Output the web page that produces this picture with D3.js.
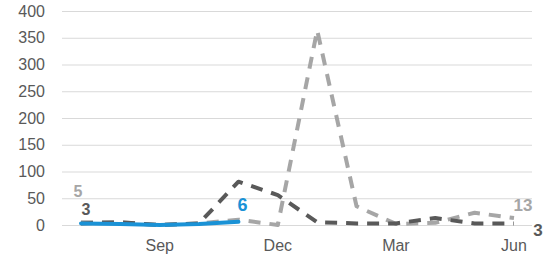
<!DOCTYPE html>
<html>
<head>
<script src="https://cdn.jsdelivr.net/npm/d3@7"></script>
<style>
  body { margin: 0; background: #fff; }
  text { font-family: "Liberation Sans", Arial, sans-serif; }
</style>
</head>
<body>
<script>
// ---- data ----
var months = ["Jul", "Aug", "Sep", "Oct", "Nov", "Dec", "Jan", "Feb", "Mar", "Apr", "May", "Jun"];
var tickMonths = ["Sep", "Dec", "Mar", "Jun"];
var yTicks = [0, 50, 100, 150, 200, 250, 300, 350, 400];
var lightValues = [5, 5, 0, 3, 10, 0, 364, 35, 2, 4, 23, 13];
var darkValues = [3, 5, 0, 3, 81, 56, 5, 3, 3, 13, 3, 3];
var blueValues = [3, 2, 0, 2, 6];

var svg = d3.select("body").append("svg")
  .attr("width", 549).attr("height", 263);

var x = d3.scalePoint().domain(months).range([81, 514]);
var y = d3.scaleLinear().domain([0, 400]).range([225, 11]);

// grid
svg.append("g").selectAll("line").data(yTicks).enter().append("line")
  .attr("x1", 62).attr("x2", 532)
  .attr("y1", function(d) { return y(d) + 0.5; })
  .attr("y2", function(d) { return y(d) + 0.5; })
  .attr("stroke", "#d9d9d9").attr("stroke-width", 1);

// y labels
svg.append("g").selectAll("text").data(yTicks).enter().append("text")
  .attr("x", 45).attr("y", function(d) { return y(d); })
  .attr("dy", "0.35em").attr("text-anchor", "end")
  .attr("font-size", 16).attr("fill", "#595959")
  .text(function(d) { return d; });

// x labels
svg.append("g").selectAll("text").data(tickMonths).enter().append("text")
  .attr("x", function(d) { return x(d); }).attr("y", 251)
  .attr("text-anchor", "middle")
  .attr("font-size", 16).attr("fill", "#595959")
  .text(function(d) { return d; });

var line = d3.line()
  .x(function(d, i) { return x(months[i]); })
  .y(function(d) { return y(d); });

svg.append("path").datum(lightValues).attr("d", line)
  .attr("fill", "none").attr("stroke", "#a6a6a6").attr("stroke-width", 4)
  .attr("stroke-dasharray", "12,9").attr("stroke-linejoin", "round");

svg.append("path").datum(darkValues).attr("d", line)
  .attr("fill", "none").attr("stroke", "#595959").attr("stroke-width", 4)
  .attr("stroke-dasharray", "12,9").attr("stroke-linejoin", "round");

svg.append("path").datum(blueValues).attr("d", line)
  .attr("fill", "none").attr("stroke", "#1a92d6").attr("stroke-width", 4)
  .attr("stroke-linejoin", "round").attr("stroke-linecap", "round");

// value labels
function label(txt, cx, cy, color, size) {
  svg.append("text").attr("x", cx).attr("y", cy)
    .attr("font-size", size).attr("font-weight", "bold")
    .attr("text-anchor", "middle").attr("fill", color).text(txt);
}
label(lightValues[0], x("Jul") - 3, y(lightValues[0]) - 25, "#a6a6a6", 16);
label(darkValues[0], x("Jul") + 5, y(darkValues[0]) - 8, "#595959", 16);
label(blueValues[4], x("Nov") + 4, y(blueValues[4]) - 11, "#1a92d6", 18);
label(lightValues[11], x("Jun") + 9, y(lightValues[11]) - 7, "#a6a6a6", 17);
label(darkValues[11], x("Jun") + 24, y(darkValues[11]) + 13, "#595959", 17);
</script>
</body>
</html>
